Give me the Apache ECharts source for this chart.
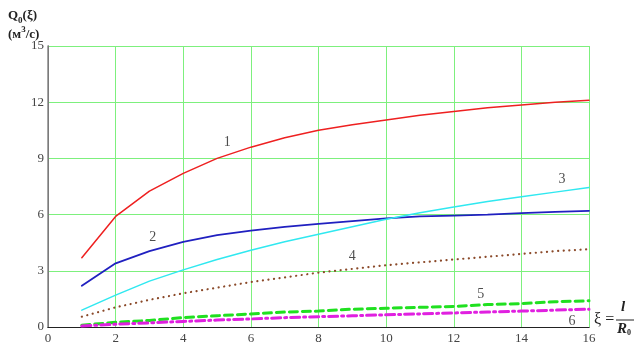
<!DOCTYPE html>
<html>
<head>
	<meta charset="utf-8">
	<title></title>
	<script type="text/javascript" src="https://cdn.jsdelivr.net/npm/echarts@6/dist/echarts.min.js"></script>
	<style>body{margin:0;} #chart{width:635px;height:345px;}</style>
</head>
<body>
<div id="chart"></div>
<script type="text/javascript">
var xi = [1, 2, 3, 4, 5, 6, 7, 8, 9, 10, 11, 12, 13, 14, 15, 16];
var q1 = [3.7, 5.9, 7.25, 8.2, 9.0, 9.6, 10.1, 10.5, 10.8, 11.05, 11.3, 11.5, 11.7, 11.85, 12.0, 12.1];
var q2 = [2.2, 3.4, 4.05, 4.55, 4.9, 5.15, 5.35, 5.5, 5.65, 5.8, 5.9, 5.95, 6.0, 6.08, 6.15, 6.2];
var q3 = [0.9, 1.7, 2.45, 3.05, 3.6, 4.1, 4.55, 4.95, 5.35, 5.75, 6.1, 6.4, 6.7, 6.95, 7.2, 7.45];
var q4 = [0.55, 1.05, 1.45, 1.8, 2.1, 2.4, 2.65, 2.9, 3.1, 3.3, 3.45, 3.6, 3.75, 3.9, 4.05, 4.15];
var q5 = [0.1, 0.25, 0.35, 0.5, 0.6, 0.7, 0.8, 0.85, 0.95, 1.0, 1.05, 1.1, 1.2, 1.25, 1.35, 1.4];
var q6 = [0.05, 0.15, 0.22, 0.3, 0.37, 0.43, 0.5, 0.55, 0.6, 0.65, 0.7, 0.75, 0.8, 0.85, 0.9, 0.95];
// curve number labels: [xi, Q, text]
var curveLabels = [[5.3, 9.85, '1'], [3.1, 4.8, '2'], [15.2, 7.9, '3'], [9.0, 3.75, '4'], [12.8, 1.75, '5'], [15.5, 0.3, '6']];

var font = 'Liberation Serif, DejaVu Serif, serif';

function pairs(ys) {
    return xi.map(function (x, i) { return [x, ys[i]]; });
}

var myChart = echarts.init(document.getElementById('chart'));

var series = [
    { data: pairs(q1), color: '#ee2020', width: 1.5, type: 'solid' },
    { data: pairs(q2), color: '#2020c0', width: 1.8, type: 'solid' },
    { data: pairs(q3), color: '#30e8f0', width: 1.5, type: 'solid' },
    { data: pairs(q4), color: '#8b4a2a', width: 2.2, type: [0.1, 5.5] },
    { data: pairs(q5), color: '#20e020', width: 3, type: [8, 5] },
    { data: pairs(q6), color: '#e020e0', width: 3, type: [9, 4, 2, 4] }
].map(function (s) {
    return {
        type: 'line',
        data: s.data,
        symbol: 'none',
        smooth: false,
        silent: true,
        lineStyle: { color: s.color, width: s.width, type: s.type, cap: 'round' }
    };
});

series.push({
    type: 'scatter',
    symbolSize: 0,
    silent: true,
    data: curveLabels.map(function (l) { return { value: [l[0], l[1]], name: l[2] }; }),
    label: {
        show: true,
        position: 'inside',
        formatter: '{b}',
        fontFamily: font,
        fontSize: 14,
        color: '#222'
    }
});

option = {
    animation: false,
    grid: { left: 48, right: 46, top: 46, bottom: 17 },
    xAxis: [{
        type: 'value',
        min: 0, max: 16, interval: 2,
        axisLine: { lineStyle: { color: '#555', width: 1 } },
        axisTick: { show: false },
        axisLabel: { fontFamily: font, fontSize: 13, color: '#444', margin: 5 },
        splitLine: { lineStyle: { color: '#7df07d', width: 1 } }
    }, {
        type: 'value',
        position: 'top',
        min: 0, max: 16,
        axisLine: { show: true, lineStyle: { color: '#222', width: 1.2 } },
        axisTick: { show: false },
        axisLabel: { show: false },
        splitLine: { show: false }
    }],
    yAxis: [{
        type: 'value',
        min: 0, max: 15, interval: 3,
        axisLine: { show: true, lineStyle: { color: '#555', width: 1 } },
        axisTick: { show: false },
        axisLabel: { fontFamily: font, fontSize: 13, color: '#444', margin: 4 },
        splitLine: { lineStyle: { color: '#7df07d', width: 1 } }
    }, {
        type: 'value',
        position: 'right',
        min: 0, max: 15,
        axisLine: { show: true, lineStyle: { color: '#888', width: 1.5 } },
        axisTick: { show: false },
        axisLabel: { show: false },
        splitLine: { show: false }
    }],
    graphic: [{
        type: 'text',
        left: 8, top: 6,
        style: {
            text: 'Q{s|0}(ξ)\n(м{p|3}/с)',
            font: 'bold 13px ' + font,
            fill: '#222',
            lineHeight: 19,
            rich: {
                s: { fontSize: 9, fontWeight: 'bold', fontFamily: font, verticalAlign: 'bottom', padding: [6, 0, 0, 0] },
                p: { fontSize: 9, fontWeight: 'bold', fontFamily: font, verticalAlign: 'top', padding: [0, 0, 6, 0] }
            }
        }
    }, {
        type: 'text',
        left: 594, top: 312,
        style: { text: 'ξ =', font: '16px ' + font, fill: '#222' }
    }, {
        type: 'text',
        left: 621, top: 300,
        style: { text: 'l', font: 'bold italic 15px ' + font, fill: '#222' }
    }, {
        type: 'line',
        shape: { x1: 616, y1: 320, x2: 634, y2: 320 },
        style: { stroke: '#222', lineWidth: 1 }
    }, {
        type: 'text',
        left: 617, top: 322,
        style: { text: 'R{s|0}', font: 'bold italic 15px ' + font, fill: '#222',
            rich: { s: { fontSize: 8, fontFamily: font, fontWeight: 'bold', verticalAlign: 'bottom' } } }
    }],
    series: series
};

myChart.setOption(option);
</script>
</body>
</html>
